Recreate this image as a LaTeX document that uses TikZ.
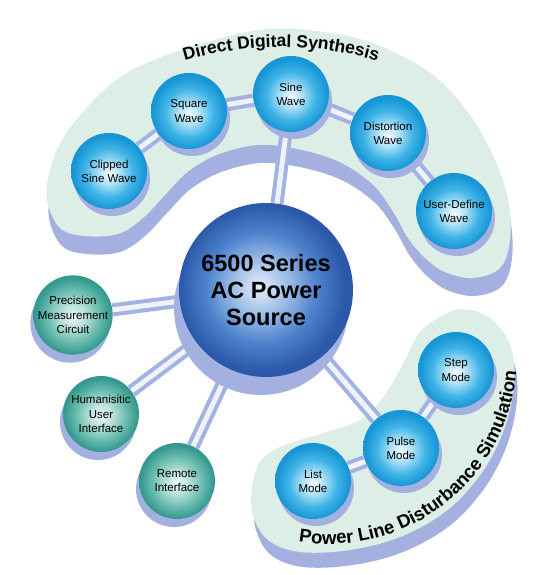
\documentclass[tikz,border=0pt]{standalone}
\usepackage{fontspec}
\setmainfont{Liberation Sans}
\usepackage{xcolor}
\usepackage{tikz}
\usetikzlibrary{decorations.text,shadows,backgrounds}
\definecolor{ACMint}{HTML}{DCEEE5}
\definecolor{ACShadow}{HTML}{A4B1E0}
\definecolor{ACTube}{HTML}{A2B2E2}
\definecolor{ACTubeLight}{HTML}{F0F3FC}
\definecolor{ACBlueCore}{HTML}{F6FCFE}
\definecolor{ACBlueSoft}{HTML}{B0E2F6}
\definecolor{ACBlueMid}{HTML}{40B4E7}
\definecolor{ACBlueEdge}{HTML}{1796D5}
\definecolor{ACTealCore}{HTML}{F0F9F6}
\definecolor{ACTealSoft}{HTML}{B6E0D8}
\definecolor{ACTealMid}{HTML}{66BAAD}
\definecolor{ACTealEdge}{HTML}{36998F}
\definecolor{ACMainCore}{HTML}{E6EFF9}
\definecolor{ACMainSoft}{HTML}{9CBDE7}
\definecolor{ACMainMid}{HTML}{4C82CD}
\definecolor{ACMainEdge}{HTML}{2B58A9}
\pgfdeclareradialshading{ACBlueBall}{\pgfpoint{0bp}{-2bp}}{color(0bp)=(ACBlueCore); color(7bp)=(ACBlueSoft); color(16bp)=(ACBlueMid); color(24bp)=(ACBlueEdge); color(50bp)=(ACBlueEdge)}
\pgfdeclareradialshading{ACTealBall}{\pgfpoint{0bp}{-1bp}}{color(0bp)=(ACTealCore); color(8bp)=(ACTealSoft); color(17bp)=(ACTealMid); color(24bp)=(ACTealEdge); color(50bp)=(ACTealEdge)}
\pgfdeclareradialshading{ACMainBall}{\pgfpoint{-2bp}{1bp}}{color(0bp)=(ACMainCore); color(8bp)=(ACMainSoft); color(16bp)=(ACMainMid); color(24bp)=(ACMainEdge); color(50bp)=(ACMainEdge)}
\newcommand{\acbandfont}{\fontsize{17.5}{20}\selectfont\bfseries}
\newcommand{\acplfont}{\fontsize{18.5}{21}\selectfont\bfseries}

\begin{document}
\begin{tikzpicture}[x=1pt,y=1pt,
  tube/.style={line width=13pt,draw=ACTube,postaction={draw=ACTubeLight,line width=5pt}},
  wave/.style={circle,minimum size=76pt,inner sep=0pt,align=center,
    font=\fontsize{11.5}{14.2}\selectfont,shade,shading=ACBlueBall,
    drop shadow={shadow xshift=3pt,shadow yshift=-7pt,fill=ACShadow,opacity=1}},
  func/.style={circle,minimum size=76pt,inner sep=0pt,align=center,
    font=\fontsize{11.5}{14.2}\selectfont,shade,shading=ACTealBall,
    drop shadow={shadow xshift=-3pt,shadow yshift=-8pt,fill=ACShadow,opacity=1}},
  hub/.style={circle,minimum size=174pt,inner sep=0pt,align=center,
    font=\fontsize{23.5}{26.7}\selectfont\bfseries,shade,shading=ACMainBall,
    drop shadow={shadow xshift=-5pt,shadow yshift=-18pt,fill=ACShadow,opacity=1}}]
\path[use as bounding box] (0,0) rectangle (535,575);
\begin{scope}[on background layer]
\fill[ACShadow,shift={(2,-18)}] plot[smooth cycle,tension=0.6] coordinates {(60,347) (47,375) (50,405) (62,435) (83,463) (110,490) (140,509) (200,531) (267,546) (330,542) (380,529) (433,500) (470,460) (495,415) (508,375) (510,335) (500,307) (473,297) (445,303) (425,317) (408,337) (392,365) (370,393) (330,417) (270,430) (225,423) (190,405) (165,380) (143,357) (118,341) (85,339)};
\fill[ACMint] plot[smooth cycle,tension=0.6] coordinates {(60,347) (47,375) (50,405) (62,435) (83,463) (110,490) (140,509) (200,531) (267,546) (330,542) (380,529) (433,500) (470,460) (495,415) (508,375) (510,335) (500,307) (473,297) (445,303) (425,317) (408,337) (392,365) (370,393) (330,417) (270,430) (225,423) (190,405) (165,380) (143,357) (118,341) (85,339)};
\fill[ACShadow,shift={(3,-15)}] plot[smooth cycle,tension=0.6] coordinates {(455,265) (485,260) (505,240) (514,213) (512,175) (500,135) (478,97) (445,63) (400,38) (350,25) (300,23) (268,35) (253,60) (252,87) (260,113) (280,128) (320,141) (360,155) (385,180) (405,215) (422,245)};
\fill[ACMint] plot[smooth cycle,tension=0.6] coordinates {(455,265) (485,260) (505,240) (514,213) (512,175) (500,135) (478,97) (445,63) (400,38) (350,25) (300,23) (268,35) (253,60) (252,87) (260,113) (280,128) (320,141) (360,155) (385,180) (405,215) (422,245)};
\end{scope}
\coordinate (ddsC) at (281,185);
\coordinate (plC) at (329,219);
\path (ddsC) ++(110:343) coordinate (ddsT);
\path[decorate,decoration={text along path,text align=center,
  text={|\acbandfont|Direct Digital Synthesis}}]
  (ddsT) arc[start angle=110,end angle=70,radius=343];
\path (plC) ++(-102:188) coordinate (plT);
\path[decorate,decoration={text along path,text align=center,
  text={|\acplfont|Power Line Disturbance Simulation}}]
  (plT) arc[start angle=-102,end angle=-2,radius=188];

\node[hub] (main) at (266,285) {6500 Series\\AC Power\\Source};
\node[wave] (clipped) at (109,404) {Clipped\\Sine Wave};
\node[wave] (square) at (189,464) {Square\\Wave};
\node[wave] (sine) at (291,481) {Sine\\Wave};
\node[wave] (distortion) at (388,442) {Distortion\\Wave};
\node[wave] (userdef) at (454,364) {User-Define\\Wave};
\node[wave] (step) at (456,205) {Step\\Mode};
\node[wave] (pulse) at (401,127) {Pulse\\Mode};
\node[wave] (list) at (313,94) {List\\Mode};
\node[func] (precision) at (73,260) {Precision\\Measurement\\Circuit};
\node[func] (human) at (101,161) {Humanisitic\\User\\Interface};
\node[func] (remote) at (177,94) {Remote\\Interface};

\begin{scope}[on background layer]
\draw[tube] (main) -- (sine);
\draw[tube] (main) -- (precision);
\draw[tube] (main) -- (human);
\draw[tube] (main) -- (remote);
\draw[tube] (main) -- (pulse);
\draw[tube] (clipped) -- (square);
\draw[tube] (square) -- (sine);
\draw[tube] (sine) -- (distortion);
\draw[tube] (distortion) -- (userdef);
\draw[tube] (list) -- (pulse);
\draw[tube] (pulse) -- (step);
\end{scope}
\end{tikzpicture}
\end{document}
